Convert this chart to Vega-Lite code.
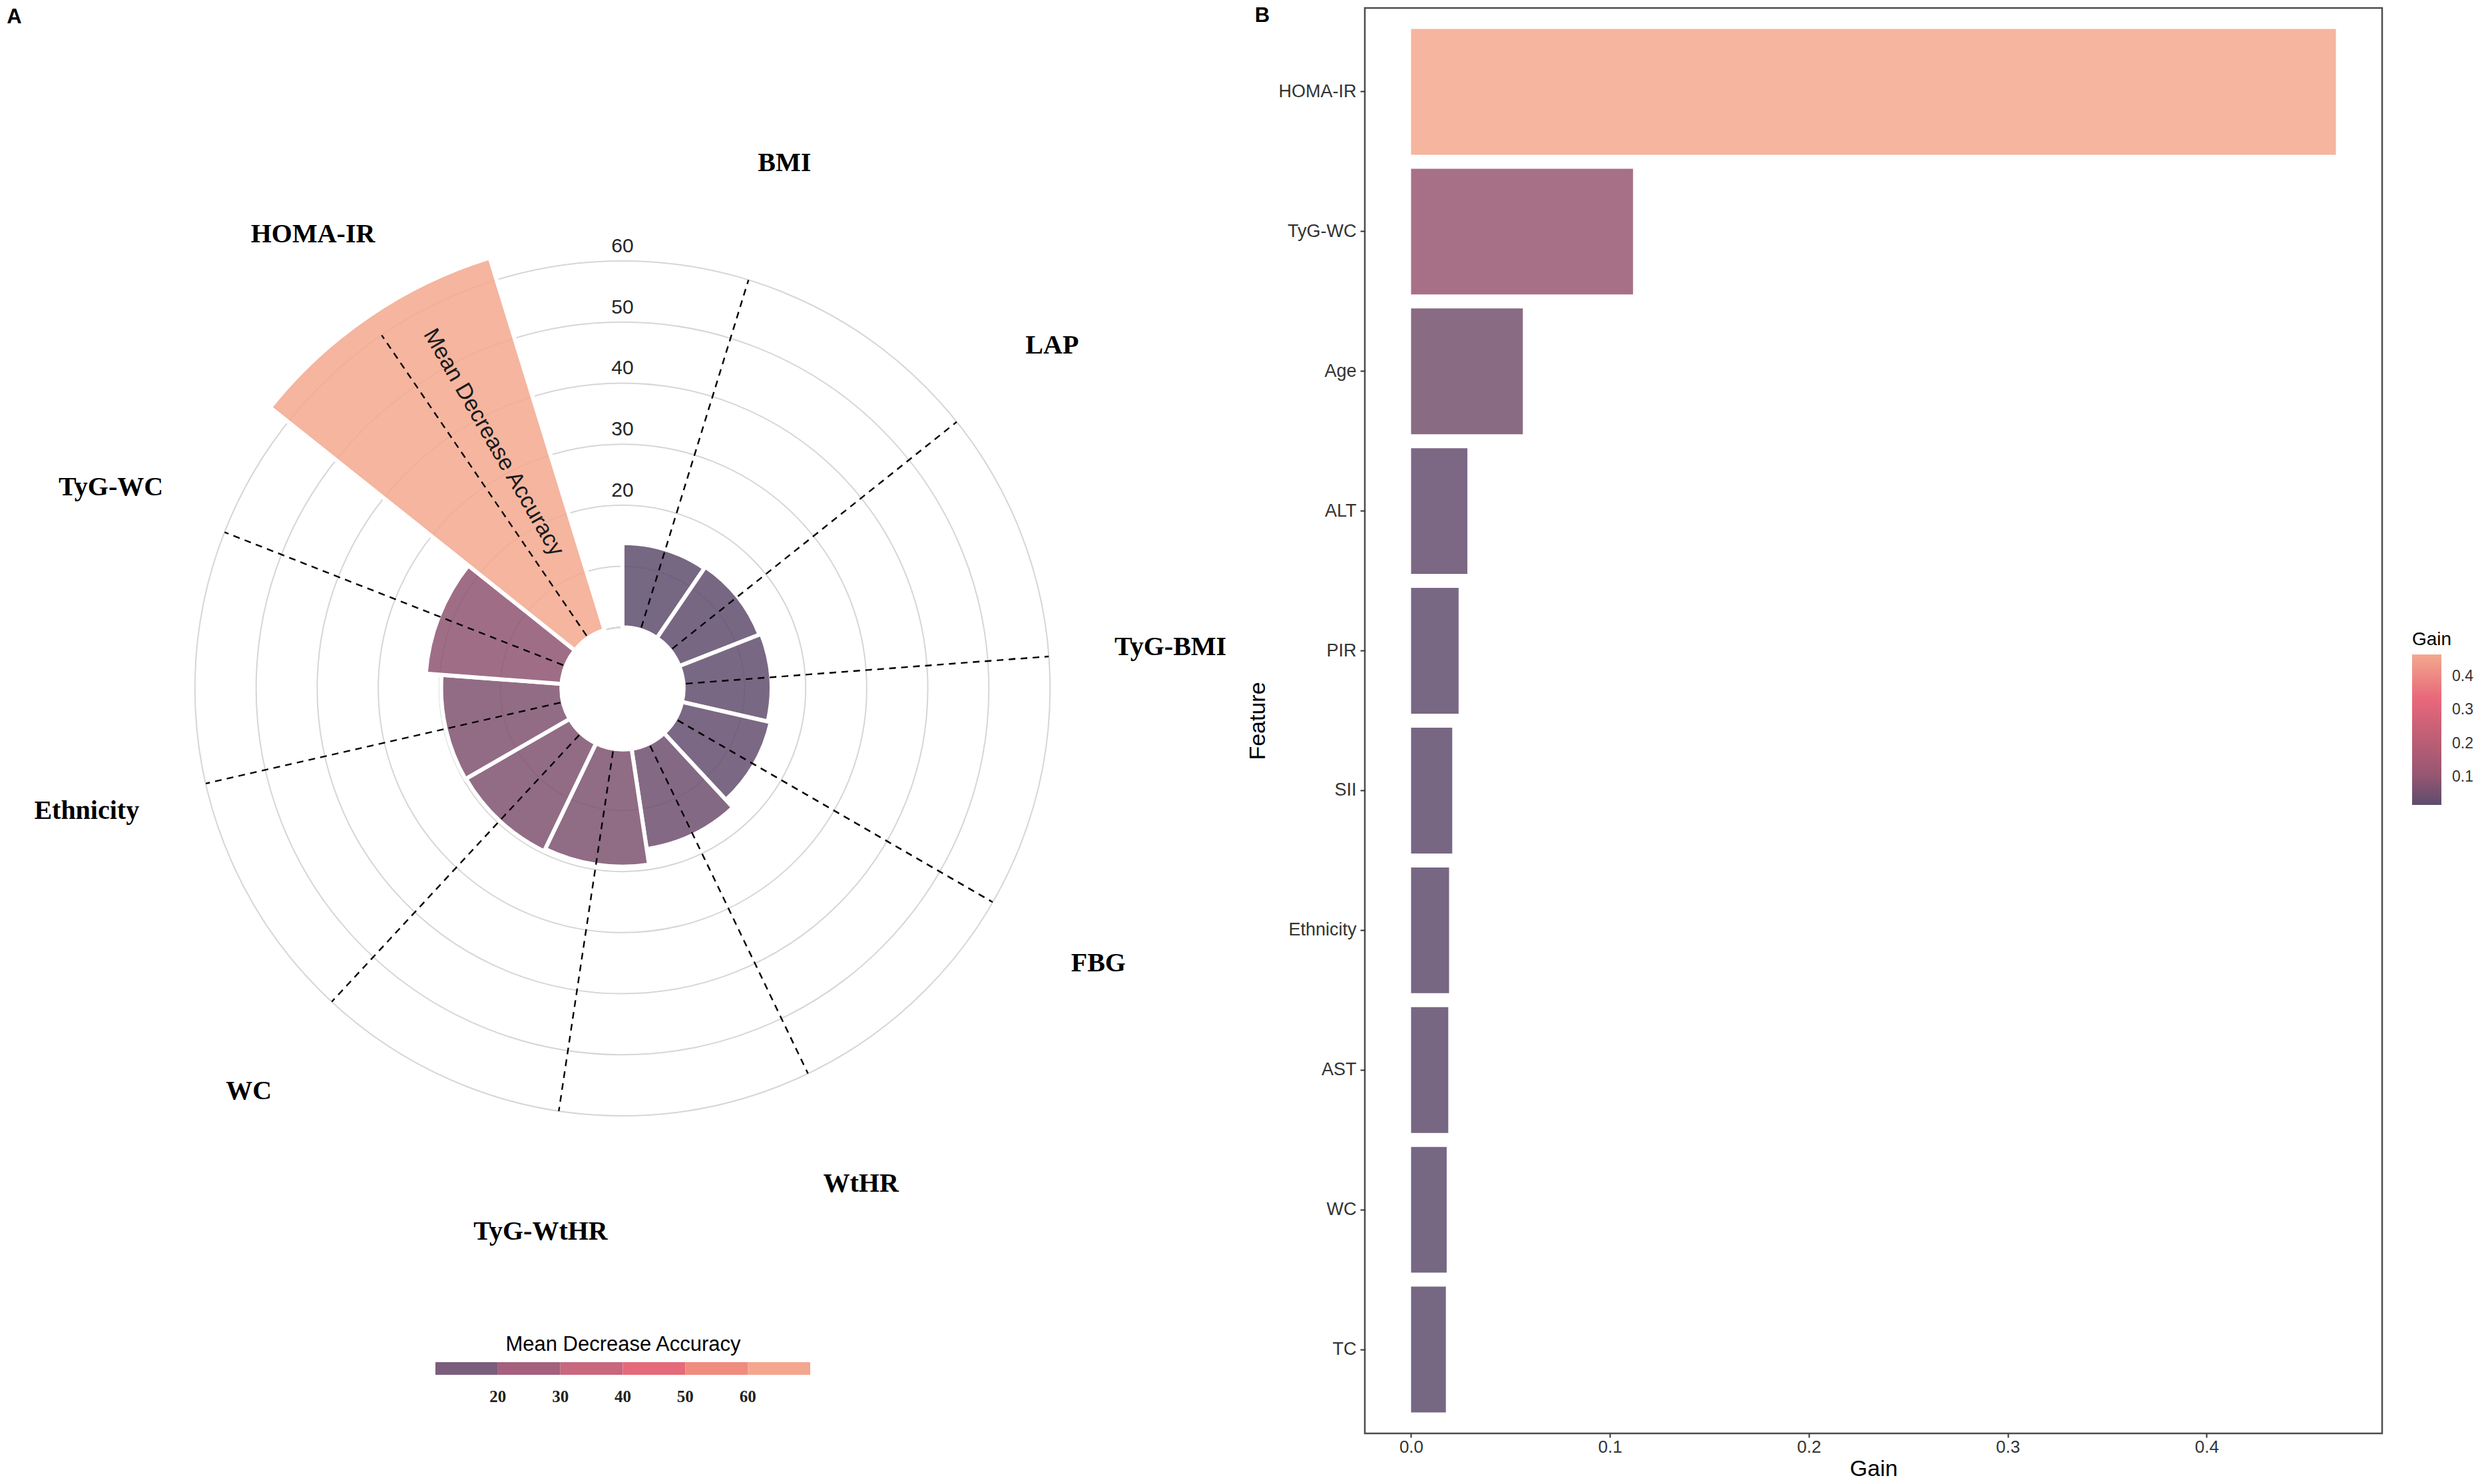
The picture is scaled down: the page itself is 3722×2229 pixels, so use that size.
{
  "$schema": "https://vega.github.io/schema/vega-lite/v6.json",
  "background": "white",
  "padding": {"left": 0, "top": 7, "right": 0, "bottom": 0},
  "config": {"font": "Liberation Sans", "view": {"stroke": null}},
  "datasets": {
    "mda": [
      {"feature": "BMI", "mda": 13.8, "rank": 0},
      {"feature": "LAP", "mda": 14.1, "rank": 1},
      {"feature": "TyG-BMI", "mda": 14.4, "rank": 2},
      {"feature": "FBG", "mda": 14.9, "rank": 3},
      {"feature": "WtHR", "mda": 16.6, "rank": 4},
      {"feature": "TyG-WtHR", "mda": 19.2, "rank": 5},
      {"feature": "WC", "mda": 19.6, "rank": 6},
      {"feature": "Ethnicity", "mda": 19.7, "rank": 7},
      {"feature": "TyG-WC", "mda": 22.3, "rank": 8},
      {"feature": "HOMA-IR", "mda": 63.8, "rank": 9}
    ],
    "gain": [
      {"feature": "HOMA-IR", "gain": 0.465},
      {"feature": "TyG-WC", "gain": 0.1116},
      {"feature": "Age", "gain": 0.0562},
      {"feature": "ALT", "gain": 0.0283},
      {"feature": "PIR", "gain": 0.0239},
      {"feature": "SII", "gain": 0.0207},
      {"feature": "Ethnicity", "gain": 0.0191},
      {"feature": "AST", "gain": 0.0187},
      {"feature": "WC", "gain": 0.0179},
      {"feature": "TC", "gain": 0.0175}
    ],
    "rings": [
      {"tick": 0}, {"tick": 10}, {"tick": 20}, {"tick": 30},
      {"tick": 40}, {"tick": 50}, {"tick": 60}
    ]
  },
  "spacing": 180,
  "bounds": "flush",
  "resolve": {
    "scale": {"color": "independent", "fill": "independent", "theta": "independent", "radius": "independent"},
    "legend": {"color": "independent", "fill": "independent"}
  },
  "hconcat": [
    {
      "width": 1870,
      "height": 2044,
      "resolve": {"scale": {"theta": "independent"}},
      "layer": [
        {
          "data": {"name": "rings"},
          "mark": {"type": "arc", "filled": false, "stroke": "#d6d6d6", "strokeWidth": 2},
          "encoding": {
            "theta": {"datum": 0, "type": "quantitative", "scale": {"domain": [0, 1], "range": [0, 6.283185307179586]}},
            "theta2": {"datum": 1},
            "radius": {"field": "tick", "type": "quantitative", "stack": null, "scale": {"type": "linear", "zero": false, "domain": [-10, 60], "range": [0, 642]}}
          }
        },
        {
          "data": {"name": "mda"},
          "transform": [
            {"joinaggregate": [{"op": "count", "as": "n"}], "groupby": ["feature"]},
            {"stack": "n", "groupby": [], "sort": [{"field": "rank", "order": "ascending"}], "as": ["t0", "t1"]}
          ],
          "mark": {"type": "arc", "stroke": "white", "strokeWidth": 6, "fillOpacity": 0.85},
          "encoding": {
            "theta": {"field": "t0", "type": "quantitative", "stack": null, "scale": {"domain": [0, 10.5], "range": [0, 6.283185307179586]}},
            "theta2": {"field": "t1"},
            "radius": {"field": "mda", "type": "quantitative", "stack": null, "scale": {"type": "linear", "zero": false, "domain": [-10, 60], "range": [0, 642]}},
            "radius2": {"datum": 0},
            "color": {
              "field": "mda", "type": "quantitative",
              "scale": {"type": "linear", "domain": [13.8, 24.3, 48.8, 63.8], "range": ["#5e4c6d", "#995772", "#e8677a", "#f3a88e"], "interpolate": "rgb"},
              "legend": null
            }
          }
        },
        {
          "data": {"name": "mda"},
          "mark": {"type": "arc", "stroke": "black", "strokeWidth": 2.4, "strokeDash": [10, 8], "strokeDashOffset": 3.71},
          "encoding": {
            "theta": {"field": "rank", "type": "quantitative", "stack": null, "scale": {"domain": [-0.5, 10], "range": [0, 6.283185307179586]}},
            "theta2": {"field": "rank"},
            "radius": {"datum": 60, "type": "quantitative", "scale": {"type": "linear", "zero": false, "domain": [-10, 60], "range": [0, 642]}},
            "radius2": {"datum": 0},
            "fill": {
              "field": "mda", "type": "quantitative",
              "scale": {"type": "threshold", "domain": [20, 30, 40, 50, 60], "range": ["#7a5d7c", "#a4607d", "#c8677d", "#e56a7a", "#f08b7f", "#f4a68e"]},
              "legend": {
                "type": "gradient", "orient": "none", "legendX": 654, "legendY": 1993,
                "direction": "horizontal", "title": "Mean Decrease Accuracy",
                "titleFont": "Liberation Sans", "titleFontSize": 31, "titleFontWeight": "normal",
                "titleAnchor": "middle", "titlePadding": 10, "titleColor": "black", "titleLimit": 1200,
                "gradientLength": 563, "gradientThickness": 19, "gradientStrokeWidth": 0,
                "labelFont": "Liberation Serif", "labelFontWeight": "bold", "labelFontSize": 25,
                "labelOffset": 21, "labelColor": "#222222", "format": "d", "padding": 0
              }
            }
          }
        },
        {
          "data": {"name": "mda"},
          "mark": {"type": "text", "font": "Liberation Serif", "fontWeight": "bold", "fontSize": 40, "align": "center", "baseline": "middle", "color": "black"},
          "encoding": {
            "theta": {"field": "rank", "type": "quantitative", "stack": null, "scale": {"domain": [-0.5, 10], "range": [0, 6.283185307179586]}},
            "radius": {"datum": 80, "type": "quantitative", "scale": {"type": "linear", "zero": false, "domain": [-10, 60], "range": [0, 642]}},
            "text": {"field": "feature"}
          }
        },
        {
          "data": {"name": "rings"},
          "transform": [{"filter": "datum.tick >= 20"}],
          "mark": {"type": "text", "fontSize": 30, "dy": -22, "align": "center", "baseline": "middle", "color": "#262626"},
          "encoding": {
            "theta": {"datum": 0, "type": "quantitative", "scale": {"domain": [0, 1], "range": [0, 6.283185307179586]}},
            "radius": {"field": "tick", "type": "quantitative", "stack": null, "scale": {"type": "linear", "zero": false, "domain": [-10, 60], "range": [0, 642]}},
            "text": {"field": "tick"}
          }
        },
        {
          "data": {"values": [{"label": "Mean Decrease Accuracy"}]},
          "mark": {"type": "text", "fontSize": 34, "angle": 60, "align": "center", "baseline": "middle", "color": "#1a1a1a"},
          "encoding": {
            "theta": {"datum": 332.3, "type": "quantitative", "scale": {"domain": [0, 360], "range": [0, 6.283185307179586]}},
            "radius": {"datum": 35.5, "type": "quantitative", "scale": {"type": "linear", "zero": false, "domain": [-10, 60], "range": [0, 642]}},
            "text": {"field": "label"}
          }
        },
        {
          "data": {"values": [{"panel": "A"}]},
          "mark": {"type": "text", "fontSize": 31, "fontWeight": "bold", "align": "center", "baseline": "middle", "color": "black"},
          "encoding": {
            "theta": {"datum": 317.8, "type": "quantitative", "scale": {"domain": [0, 360], "range": [0, 6.283185307179586]}},
            "radius": {"datum": 138.3, "type": "quantitative", "scale": {"type": "linear", "zero": false, "domain": [-10, 60], "range": [0, 642]}},
            "text": {"field": "panel"}
          }
        },
        {
          "data": {"values": [{"panel": "B"}]},
          "mark": {"type": "text", "fontSize": 31, "fontWeight": "bold", "align": "center", "baseline": "middle", "color": "black"},
          "encoding": {
            "theta": {"datum": 43.57, "type": "quantitative", "scale": {"domain": [0, 360], "range": [0, 6.283185307179586]}},
            "radius": {"datum": 142.0, "type": "quantitative", "scale": {"type": "linear", "zero": false, "domain": [-10, 60], "range": [0, 642]}},
            "text": {"field": "panel"}
          }
        }
      ]
    },
    {
      "width": 1528,
      "height": 2141,
      "view": {"stroke": "#4d4d4d", "strokeWidth": 2.5},
      "data": {"name": "gain"},
      "mark": {"type": "bar", "fillOpacity": 0.85},
      "encoding": {
        "y": {
          "field": "feature", "type": "nominal", "sort": "-x",
          "scale": {"paddingInner": 0.1, "paddingOuter": 0.15},
          "axis": {
            "title": "Feature", "titleFontSize": 34, "titleFontWeight": "normal", "titleColor": "black", "titlePadding": 14,
            "labelFontSize": 27, "labelColor": "#333333", "labelPadding": 6,
            "tickColor": "#333333", "tickSize": 7, "tickWidth": 2, "domain": false, "grid": false
          }
        },
        "x": {
          "field": "gain", "type": "quantitative",
          "scale": {"domain": [-0.02325, 0.48825], "nice": false, "zero": false},
          "axis": {
            "title": "Gain", "titleFontSize": 34, "titleFontWeight": "normal", "titleColor": "black", "titlePadding": 3,
            "values": [0, 0.1, 0.2, 0.3, 0.4], "format": ".1f",
            "labelFontSize": 26, "labelColor": "#333333", "labelPadding": 1,
            "tickColor": "#333333", "tickSize": 6, "tickWidth": 2, "domain": false, "grid": false
          }
        },
        "x2": {"datum": 0},
        "color": {
          "field": "gain", "type": "quantitative",
          "scale": {"type": "linear", "domain": [0.0175, 0.1115, 0.3308, 0.465], "range": ["#5e4c6d", "#995772", "#e8677a", "#f3a88e"], "interpolate": "rgb"},
          "legend": {
            "orient": "none", "legendX": 1573, "legendY": 935, "direction": "vertical",
            "title": "Gain", "titleFontSize": 28, "titleFontWeight": "normal", "titleColor": "black", "titlePadding": 8,
            "gradientLength": 226, "gradientThickness": 44, "gradientStrokeWidth": 0,
            "values": [0.1, 0.2, 0.3, 0.4], "format": ".1f",
            "labelFontSize": 23, "labelOffset": 16, "labelColor": "#333333", "padding": 0
          }
        }
      }
    }
  ]
}
